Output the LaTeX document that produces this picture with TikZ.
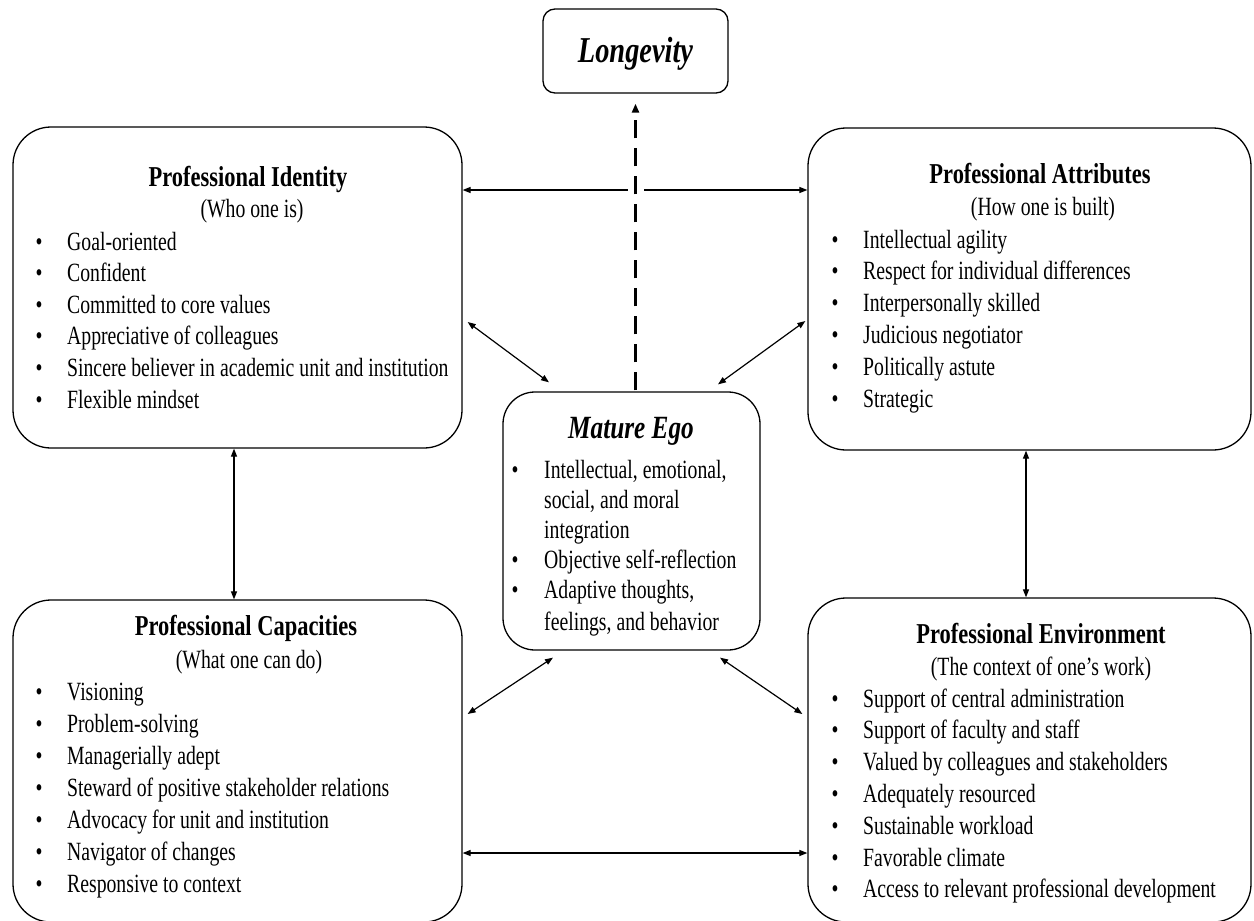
\documentclass[tikz,border=0pt]{standalone}
\usepackage{fontspec}
\setmainfont{Liberation Serif}[FakeStretch=0.78]
\newfontfamily\bodyfont{Liberation Serif}[FakeStretch=0.75]
\usetikzlibrary{arrows.meta}
\begin{document}
\begin{tikzpicture}[x=1pt,y=-1pt,
  box/.style={draw, line width=1.3pt, inner sep=0pt, rounded corners=38pt},
  ttl/.style={font=\fontsize{28.8}{34}\selectfont\bfseries, inner sep=0pt, anchor=base},
  sub/.style={font=\bodyfont\fontsize{26.3}{31.7}\selectfont, inner sep=0pt, anchor=base},
  itm/.style={font=\bodyfont\fontsize{26.3}{31.7}\selectfont, inner sep=0pt, anchor=base west},
  conn/.style={{Triangle[length=8pt,width=6pt]}-{Triangle[length=8pt,width=6pt]}, line width=1.2pt},
  dashedarrow/.style={-{Triangle[length=9pt,width=7pt]}, line width=2.6pt, dash pattern=on 18pt off 10pt,
     preaction={draw=white, line width=16pt, solid, -}}
]
\useasboundingbox (0,0) rectangle (1254,921);
\fill[white] (0,0) rectangle (1254,921);

% boxes
\node[box, rounded corners=12pt, minimum width=185pt, minimum height=84pt] (lg) at (635.5,51) {};
\node[box, minimum width=449pt, minimum height=321pt] (pi) at (237.5,287.5) {};
\node[box, minimum width=443pt, minimum height=322pt] (pa) at (1029.5,289) {};
\node[box, minimum width=449pt, minimum height=322pt] (pc) at (237.5,761) {};
\node[box, minimum width=443pt, minimum height=324pt] (pe) at (1029.5,760) {};
\node[box, rounded corners=32pt, minimum width=257pt, minimum height=258pt] (me) at (631.5,521) {};

% Longevity
\node[inner sep=0pt, anchor=base, font=\fontsize{36.4}{40}\selectfont\bfseries\itshape] (lg-t) at (635.5,62) {Longevity};

% Professional Identity
\node[ttl] (pi-t) at (248,186) {Professional Identity};
\node[sub] (pi-s) at (252,217) {(Who one is)};
\foreach \t [count=\i] in {Goal-oriented, Confident, Committed to core values, Appreciative of colleagues, Sincere believer in academic unit and institution, Flexible mindset}
  \node[itm] (pi-\i) at (35.5,{250+31.6*(\i-1)}) {\makebox[31.5pt][l]{•}\t};

% Professional Attributes
\node[ttl] (pa-t) at (1040,183) {Professional Attributes};
\node[sub] (pa-s) at (1043,215) {(How one is built)};
\foreach \t [count=\i] in {Intellectual agility, Respect for individual differences, Interpersonally skilled, Judicious negotiator, Politically astute, Strategic}
  \node[itm] (pa-\i) at (831.5,{248+31.8*(\i-1)}) {\makebox[31.5pt][l]{•}\t};

% Professional Capacities
\node[ttl] (pc-t) at (246,635) {Professional Capacities};
\node[sub] (pc-s) at (249,668) {(What one can do)};
\foreach \t [count=\i] in {Visioning, Problem-solving, Managerially adept, Steward of positive stakeholder relations, Advocacy for unit and institution, Navigator of changes, Responsive to context}
  \node[itm] (pc-\i) at (35.5,{700+32*(\i-1)}) {\makebox[31.5pt][l]{•}\t};

% Professional Environment
\node[ttl] (pe-t) at (1041,643) {Professional Environment};
\node[sub] (pe-s) at (1041,675) {(The context of one’s work)};
\foreach \t [count=\i] in {Support of central administration, Support of faculty and staff, Valued by colleagues and stakeholders, Adequately resourced, Sustainable workload, Favorable climate, Access to relevant professional development}
  \node[itm] (pe-\i) at (831.5,{707+31.8*(\i-1)}) {\makebox[31.5pt][l]{•}\t};

% Mature Ego
\node[inner sep=0pt, anchor=base, font=\fontsize{32.4}{36}\selectfont\bfseries\itshape] (me-t) at (631,438) {Mature Ego};
\node[itm] (me-1) at (511.5,478) {\makebox[32.5pt][l]{•}Intellectual, emotional,};
\node[itm] (me-2) at (544,508) {social, and moral};
\node[itm] (me-3) at (544,538) {integration};
\node[itm] (me-4) at (511.5,568) {\makebox[32.5pt][l]{•}Objective self-reflection};
\node[itm] (me-5) at (511.5,598) {\makebox[32.5pt][l]{•}Adaptive thoughts,};
\node[itm] (me-6) at (544,630) {feelings, and behavior};

% helper coordinates
\coordinate (h1) at (0,190);
\coordinate (h2) at (0,853);
\coordinate (v1) at (234,0);
\coordinate (v2) at (1026,0);

% connectors
\draw[conn] (pi.east |- h1) -- (pa.west |- h1);
\draw[conn] (pc.east |- h2) -- (pe.west |- h2);
\draw[conn] (v1 |- pi.south) -- (v1 |- pc.north);
\draw[conn] (v2 |- pa.south) -- (v2 |- pe.north);
\draw[conn] ([shift={(5,34.5)}]pi.east) -- ([shift={(-82.5,-9)}]me.north);
\draw[conn] ([shift={(-2,32)}]pa.west) -- ([shift={(86.5,-7)}]me.north);
\draw[conn] ([shift={(5,-47)}]pc.east) -- ([shift={(-78.5,7)}]me.south);
\draw[conn] ([shift={(-5,-46)}]pe.west) -- ([shift={(88.5,7)}]me.south);

\coordinate (ds) at (lg.south |- me.north);
\draw[dashedarrow] ([yshift=1pt]ds) -- ([yshift=-10pt]lg.south);
\end{tikzpicture}
\end{document}
